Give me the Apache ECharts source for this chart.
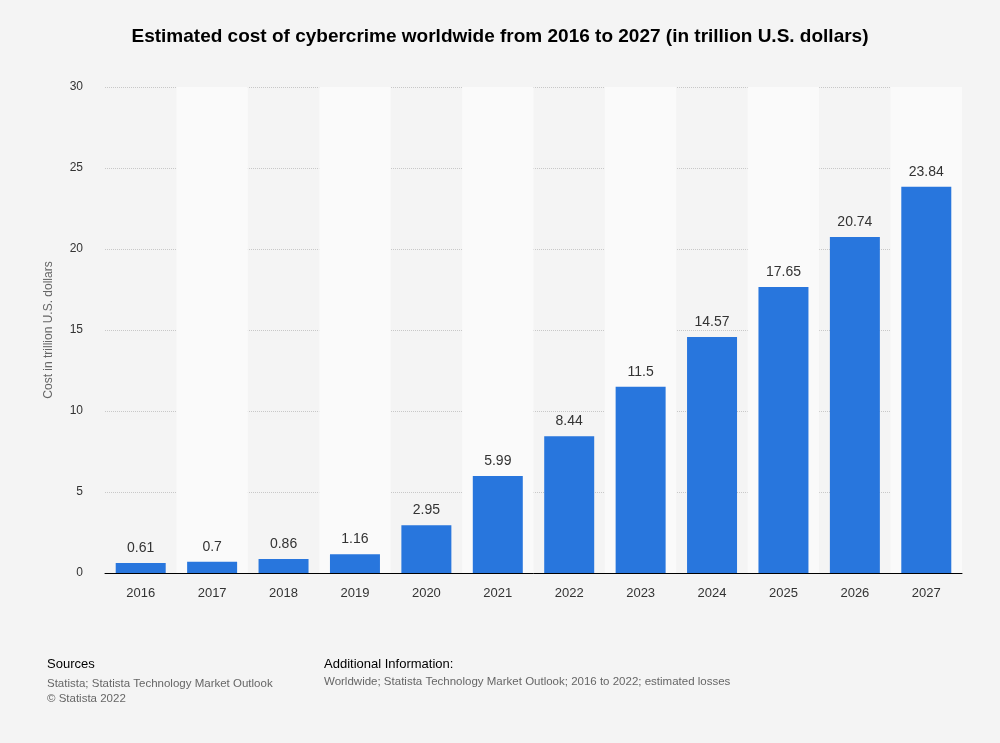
<!DOCTYPE html>
<html>
<head>
<meta charset="utf-8">
<script src="https://cdn.jsdelivr.net/npm/echarts@6/dist/echarts.min.js"></script>
<style>
body{margin:0;background:#f4f4f4;}
#chart{width:1000px;height:743px;}
</style>
</head>
<body>
<div id="chart"></div>
<script>
var years = ['2016','2017','2018','2019','2020','2021','2022','2023','2024','2025','2026','2027'];
var costs = [0.61, 0.7, 0.86, 1.16, 2.95, 5.99, 8.44, 11.5, 14.57, 17.65, 20.74, 23.84];
var yTicks = [0, 5, 10, 15, 20, 25, 30];

var chart = echarts.init(document.getElementById('chart'));
chart.setOption({
  backgroundColor: '#f4f4f4',
  textStyle: { fontFamily: 'Arial, Liberation Sans, sans-serif' },
  title: {
    text: 'Estimated cost of cybercrime worldwide from 2016 to 2027 (in trillion U.S. dollars)',
    left: 'center', top: 22,
    textStyle: { fontSize: 19, fontWeight: 'bold', color: '#000' }
  },
  graphic: [
    { type: 'text', left: 47, top: 658, style: { text: 'Sources', fontSize: 13, fill: '#000' } },
    { type: 'text', left: 47, top: 676, style: { text: 'Statista; Statista Technology Market Outlook\n© Statista 2022', fontSize: 11.5, lineHeight: 15, fill: '#666' } },
    { type: 'text', left: 324, top: 658, style: { text: 'Additional Information:', fontSize: 13, fill: '#000' } },
    { type: 'text', left: 324, top: 676, style: { text: 'Worldwide; Statista Technology Market Outlook; 2016 to 2022; estimated losses', fontSize: 11.5, fill: '#666' } }
  ],
  grid: { left: 105, right: 38, top: 87, bottom: 170 },
  xAxis: {
    type: 'category',
    data: years,
    axisLine: { lineStyle: { color: '#000' } },
    axisTick: { show: false },
    axisLabel: { color: '#333', fontSize: 13, margin: 14 },
    splitArea: { show: true, areaStyle: { color: ['rgba(0,0,0,0)', '#fafafa'] } }
  },
  yAxis: {
    type: 'value',
    min: yTicks[0], max: yTicks[yTicks.length - 1], interval: 5,
    name: 'Cost in trillion U.S. dollars',
    nameLocation: 'middle', nameGap: 50,
    nameTextStyle: { color: '#666', fontSize: 12 },
    axisLine: { show: false },
    axisTick: { show: false },
    axisLabel: { color: '#333', fontSize: 12, margin: 22 },
    splitLine: { lineStyle: { color: '#c8c8c8', type: 'dotted' } }
  },
  series: [{
    type: 'bar',
    data: costs,
    barWidth: '70%',
    itemStyle: { color: '#2876dd' },
    label: { show: true, position: 'top', distance: 8, color: '#333', fontSize: 14 }
  }]
});
</script>
</body>
</html>
